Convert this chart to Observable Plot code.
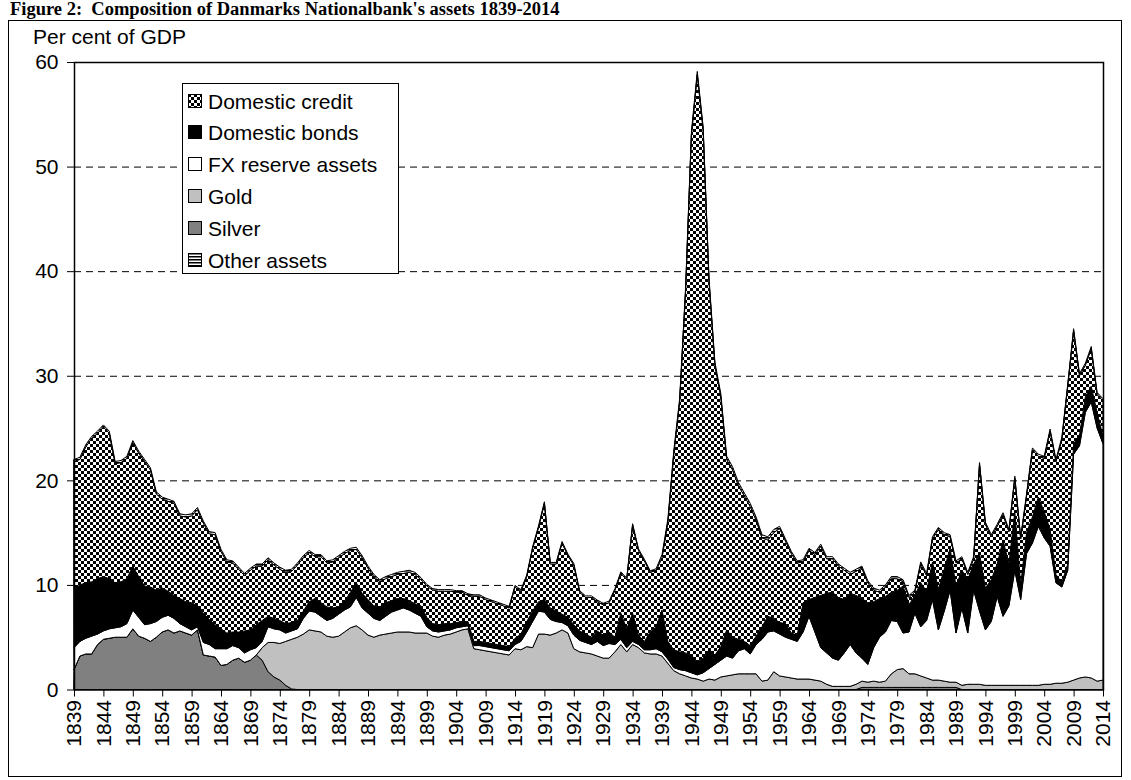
<!DOCTYPE html>
<html><head><meta charset="utf-8">
<script src="https://cdn.jsdelivr.net/npm/d3@7"></script>
<script src="https://cdn.jsdelivr.net/npm/@observablehq/plot@0.6"></script>
<style>
body{margin:0;background:#fff;}
#wrap{position:relative;width:1131px;height:780px;overflow:hidden;font-family:"Liberation Sans",Arial,sans-serif;color:#000;}
#frame{position:absolute;left:8px;top:20px;width:1114px;height:757px;border:1px solid #000;box-sizing:border-box;}
#title{position:absolute;left:10px;top:-0.5px;font:bold 18.5px/18.5px "Liberation Serif","Times New Roman",serif;white-space:nowrap;}
#ylabel{position:absolute;left:33px;top:26px;font-size:21px;line-height:21px;white-space:nowrap;}
#chart{position:absolute;left:0;top:0;}
#legend{position:absolute;left:182px;top:83px;width:217px;height:191px;border:1px solid #000;background:#fff;box-sizing:border-box;}
.sw{position:absolute;left:188px;width:14px;height:14px;}
.lt{position:absolute;left:208px;font-size:21px;line-height:21px;white-space:nowrap;}
</style></head>
<body>
<svg width="0" height="0" style="position:absolute">
<defs>
<pattern id="checker" patternUnits="userSpaceOnUse" width="6" height="6"><rect width="6" height="6" fill="#fff"/><rect width="3" height="3" fill="#000"/><rect x="3" y="3" width="3" height="3" fill="#000"/></pattern>
<pattern id="stripes" patternUnits="userSpaceOnUse" width="4" height="3"><rect width="4" height="3" fill="#fff"/><rect width="4" height="1.5" fill="#000"/></pattern>
</defs>
</svg>
<div id="wrap">
<div id="title">Figure 2:&nbsp; Composition of Danmarks Nationalbank's assets 1839-2014</div>
<div id="frame"></div>
<div id="ylabel">Per cent of GDP</div>
<div id="chart"></div>
<div id="legend"></div>
</div>
<script>
// ---- Data (per cent of GDP), years 1839-2014 ----
const firstYear = 1839, lastYear = 2014;
const tickYears = [1839,1844,1849,1854,1859,1864,1869,1874,1879,1884,1889,1894,1899,1904,1909,1914,1919,1924,1929,1934,1939,1944,1949,1954,1959,1964,1969,1974,1979,1984,1989,1994,1999,2004,2009,2014];
const yTicks = [0,10,20,30,40,50,60];
const seriesNames = ["Silver","Gold","FX reserve assets","Domestic bonds","Domestic credit","Other assets"];
const legendOrder = ["Domestic credit","Domestic bonds","FX reserve assets","Gold","Silver","Other assets"];

const silver = [
1.9,3.2,3.4,3.4,4.3,4.8,4.9,5.0,5.0,5.0,
5.8,5.1,4.9,4.6,5.0,5.5,5.7,5.4,5.6,5.4,
5.2,5.7,3.3,3.2,3.1,2.3,2.4,2.8,3.0,2.6,
2.8,3.3,2.8,1.7,1.2,0.9,0.4,0.05,0,0,
0,0,0,0,0,0,0,0,0,0,
0,0,0,0,0,0,0,0,0,0,
0,0,0,0,0,0,0,0,0,0,
0,0,0,0,0,0,0,0,0,0,
0,0,0,0,0,0,0,0,0,0,
0,0,0,0,0,0,0,0,0,0,
0,0,0,0,0,0,0,0,0,0,
0,0,0,0,0,0,0,0,0,0,
0,0,0,0,0,0,0,0,0,0,
0,0,0,0,0.2,0.2,0.2,0.2,0.2,0.2,
0.2,0.2,0.2,0.2,0.2,0.2,0.2,0.2,0.2,0.2,
0.2,0,0,0,0,0,0,0,0,0,
0,0,0,0,0,0,0,0,0,0,
0,0,0,0,0,0];

const gold = [
0,0,0,0,0,0,0,0,0,0,
0,0,0,0,0,0,0,0,0,0,
0,0,0,0,0,0,0,0,0,0,
0,0,1.2,2.8,3.3,3.5,4.2,4.75,5.0,5.3,
5.7,5.6,5.5,5.1,5.0,5.1,5.5,5.9,6.1,5.7,
5.2,5.0,5.2,5.3,5.4,5.5,5.5,5.5,5.4,5.4,
5.4,5.1,5.0,5.2,5.3,5.5,5.7,5.8,3.9,3.8,
3.7,3.6,3.5,3.4,3.3,3.9,3.8,4.1,4.0,5.3,
5.3,5.2,5.4,5.7,5.4,3.9,3.6,3.5,3.4,3.2,
3.0,3.0,3.6,4.3,3.6,4.3,4.0,3.5,3.4,3.4,
3.2,2.5,1.8,1.5,1.3,1.1,1.0,0.8,1.0,0.9,
1.2,1.3,1.4,1.5,1.5,1.5,1.5,0.8,0.9,1.7,
1.3,1.2,1.1,1.0,1.0,1.0,0.9,0.8,0.5,0.3,
0.3,0.3,0.3,0.5,0.6,0.5,0.6,0.5,0.6,1.3,
1.7,1.8,1.3,1.3,1.1,0.9,0.7,0.7,0.6,0.5,
0.5,0.4,0.5,0.5,0.5,0.4,0.4,0.4,0.4,0.4,
0.4,0.4,0.4,0.4,0.4,0.5,0.5,0.6,0.6,0.7,
0.9,1.1,1.2,1.1,0.8,0.9];

const fxReserves = [
2.1,1.4,1.5,1.7,1.0,0.8,0.9,0.9,1.0,1.3,
1.8,1.8,1.3,1.7,1.5,1.4,1.4,1.4,0.7,0.6,
0.5,0.3,1.2,1.1,0.8,1.6,1.5,1.4,1.0,0.9,
1.0,0.7,0.6,1.5,1.3,1.3,0.8,0.8,0.8,1.5,
1.8,1.8,1.5,1.5,1.8,2.1,2.1,2.0,2.7,2.1,
2.1,1.8,1.4,1.7,2.0,2.1,2.3,2.1,1.9,1.6,
0.6,0.5,0.5,0.4,0.4,0.4,0.3,0.3,0.3,0.4,
0.4,0.4,0.4,0.4,0.4,0.4,0.8,1.4,2.5,2.2,
2.1,1.5,1.1,0.7,0.7,1.3,1.1,1.0,0.9,1.4,
1.2,1.4,0.7,0.5,0.4,0.3,0.3,0.3,0.4,0.5,
0.4,0.4,0.3,0.4,0.5,0.5,0.4,0.8,1.0,1.5,
1.6,1.9,1.6,2.2,2.4,1.9,2.8,4.0,4.6,3.9,
4.0,3.8,3.7,3.6,4.5,6.0,4.6,3.2,3.0,2.7,
2.5,3.2,4.0,3.0,2.2,1.7,3.2,4.3,4.7,5.1,
4.6,3.4,4.0,5.8,4.7,5.5,7.7,4.8,6.7,8.8,
4.7,7.4,4.9,9.0,7.0,5.3,6.1,8.5,6.6,7.6,
11.0,8.2,12.6,13.6,15.2,14.0,13.2,9.6,9.2,10.7,
21.6,22.2,25.3,26.4,24.2,22.6];

const domesticBonds = [
5.6,5.4,5.3,5.2,5.3,5.2,4.8,4.3,4.3,4.3,
4.2,3.9,3.7,3.5,3.0,2.8,2.3,2.2,2.4,2.4,
2.6,2.0,2.8,2.4,2.3,1.9,1.5,1.3,1.5,2.1,
1.9,2.2,2.0,1.0,1.0,0.9,0.9,0.8,0.8,0.7,
0.9,1.3,1.3,1.3,1.0,0.7,0.8,1.4,1.4,1.4,
1.3,1.2,1.3,1.3,1.1,1.1,0.9,0.9,0.9,1.0,
0.9,0.7,0.7,0.7,0.6,0.5,0.5,0.4,0.4,0.4,
0.4,0.4,0.4,0.4,0.4,0.6,0.7,1.0,1.0,0.9,
1.2,1.1,1.0,0.8,0.8,1.0,0.9,0.8,0.7,1.0,
1.0,1.1,0.7,2.5,1.8,2.7,0.9,0.8,1.7,2.1,
4.0,1.7,1.7,1.7,1.7,1.7,1.2,1.4,1.8,0.9,
1.3,2.5,2.0,1.1,0.7,0.8,0.8,1.2,1.5,1.2,
1.1,1.3,0.6,0.6,2.8,1.6,3.3,5.0,5.7,6.3,
6.0,5.1,4.9,5.5,5.7,5.9,4.4,3.7,3.4,2.7,
3.0,4.5,2.6,1.7,4.2,2.8,3.6,3.9,4.0,4.0,
4.5,3.6,5.1,2.5,5.5,4.0,4.0,3.1,7.3,4.0,
5.6,1.4,2.0,2.5,2.8,2.5,1.6,0.8,0.4,0.6,
1.0,1.0,1.5,1.5,1.5,0.7];

const domesticCredit = [
12.2,12.0,13.0,13.7,13.9,14.3,13.9,11.4,11.4,11.5,
11.8,11.8,11.9,11.2,9.2,8.5,8.6,8.8,7.9,8.1,
8.3,9.2,8.6,8.2,8.6,7.4,6.8,6.6,6.0,5.3,
5.7,5.6,5.2,5.4,5.1,4.9,4.9,4.9,5.3,5.1,
4.7,4.0,4.4,4.2,4.4,4.7,4.6,4.0,3.2,3.4,
3.0,2.8,2.4,2.3,2.3,2.3,2.4,2.7,2.8,2.5,
3.0,3.2,3.2,3.1,3.1,2.9,2.8,2.5,4.3,4.3,
4.1,4.0,3.9,3.8,3.7,4.9,4.1,4.3,6.0,7.1,
9.2,4.2,4.5,6.8,5.9,5.7,3.7,3.5,3.8,2.8,
2.9,2.8,4.5,3.8,4.7,8.4,8.1,7.7,5.7,5.4,
5.0,11.4,18.7,23.9,34.5,49.7,56.2,50.5,35.2,27.7,
23.9,16.3,16.0,14.7,13.9,13.3,11.1,8.5,7.3,8.2,
9.0,7.9,7.6,6.9,3.9,4.7,4.1,4.7,3.3,3.2,
3.0,2.8,1.8,2.3,2.9,1.9,1.1,0.6,0.9,1.3,
1.1,0.4,0.7,0.3,1.8,1.5,2.2,5.7,3.3,1.1,
2.2,1.1,0.5,0.5,8.5,6.1,4.1,3.6,2.4,3.1,
3.2,4.4,3.5,6.4,3.9,5.1,9.4,10.8,13.7,17.0,
10.8,5.7,3.0,3.6,1.7,3.4];

const otherAssets = [
0.2,0.2,0.2,0.2,0.2,0.2,0.2,0.2,0.2,0.2,
0.2,0.2,0.2,0.2,0.2,0.2,0.2,0.2,0.2,0.2,
0.2,0.2,0.2,0.2,0.2,0.2,0.2,0.2,0.2,0.2,
0.2,0.2,0.2,0.2,0.2,0.2,0.2,0.2,0.2,0.2,
0.2,0.2,0.2,0.2,0.2,0.2,0.2,0.2,0.2,0.2,
0.2,0.2,0.2,0.2,0.2,0.2,0.2,0.2,0.2,0.2,
0.15,0.15,0.15,0.15,0.15,0.15,0.15,0.15,0.15,0.15,
0.15,0.15,0.15,0.15,0.15,0.15,0.15,0.15,0.15,0.15,
0.15,0.15,0.15,0.15,0.15,0.15,0.15,0.15,0.15,0.15,
0.15,0.15,0.15,0.15,0.15,0.15,0.15,0.15,0.15,0.15,
0.3,0.3,0.3,0.3,0.3,0.3,0.3,0.3,0.3,0.3,
0.3,0.3,0.3,0.3,0.3,0.3,0.3,0.3,0.3,0.3,
0.2,0.2,0.2,0.2,0.2,0.2,0.2,0.2,0.2,0.2,
0.2,0.2,0.2,0.2,0.2,0.2,0.2,0.2,0.2,0.2,
0.2,0.2,0.2,0.2,0.2,0.2,0.2,0.2,0.2,0.2,
0.2,0.2,0.2,0.2,0.2,0.2,0.2,0.2,0.2,0.2,
0.2,0.2,0.2,0.2,0.2,0.2,0.2,0.2,0.2,0.2,
0.2,0.2,0.2,0.2,0.2,0.2];

// ---- Styles ----
const fills = {
  "Silver": "#808080",
  "Gold": "#c0c0c0",
  "FX reserve assets": "#ffffff",
  "Domestic bonds": "#000000",
  "Domestic credit": "url(#checker)",
  "Other assets": "url(#stripes)"
};

const seriesValues = [silver, gold, fxReserves, domesticBonds, domesticCredit, otherAssets];
const rows = [];
for (let i = 0; i <= lastYear - firstYear; i++) {
  seriesValues.forEach((arr, k) => rows.push({year: firstYear + i, series: seriesNames[k], value: arr[i]}));
}

const chart = Plot.plot({
  width: 1131, height: 780,
  marginLeft: 74, marginRight: 28, marginTop: 62, marginBottom: 90.5,
  x: {domain: [firstYear, lastYear]},
  y: {domain: [0, 60]},
  color: {type: "identity"},
  style: {fontFamily: '"Liberation Sans", Arial, sans-serif', fontSize: "21px", background: "transparent", color: "black"},
  marks: [
    Plot.ruleY([10,20,30,40,50], {stroke: "black", strokeDasharray: "7,5", strokeWidth: 1}),
    Plot.areaY(rows, Plot.stackY({
      x: "year", y: "value", z: "series",
      fill: d => fills[d.series],
      order: seriesNames,
      stroke: "black", strokeWidth: 1, strokeLinejoin: "round"
    })),
    Plot.frame({stroke: "black", strokeWidth: 1.5}),
    Plot.axisY({ticks: yTicks, tickSize: 7, tickPadding: 9, tickFormat: d => String(d), label: null}),
    Plot.axisX({ticks: tickYears, tickSize: 7, tickPadding: 3, tickRotate: -90, tickFormat: d => String(d), label: null})
  ]
});
document.getElementById("chart").appendChild(chart);

// ---- Legend ----
const wrap = document.getElementById("wrap");
legendOrder.forEach((name, i) => {
  const top = 93.5 + 31.9 * i;
  const sw = document.createElementNS("http://www.w3.org/2000/svg", "svg");
  sw.setAttribute("class", "sw");
  sw.setAttribute("width", 14); sw.setAttribute("height", 14);
  sw.style.top = top + "px";
  sw.innerHTML = `<rect x="0.5" y="0.5" width="13" height="13" fill="${fills[name]}" stroke="#000" stroke-width="1"/>`;
  wrap.appendChild(sw);
  const t = document.createElement("div");
  t.className = "lt";
  t.style.top = (top + 14.8 - 17.8) + "px";
  t.textContent = name;
  wrap.appendChild(t);
});
</script>
</body></html>
